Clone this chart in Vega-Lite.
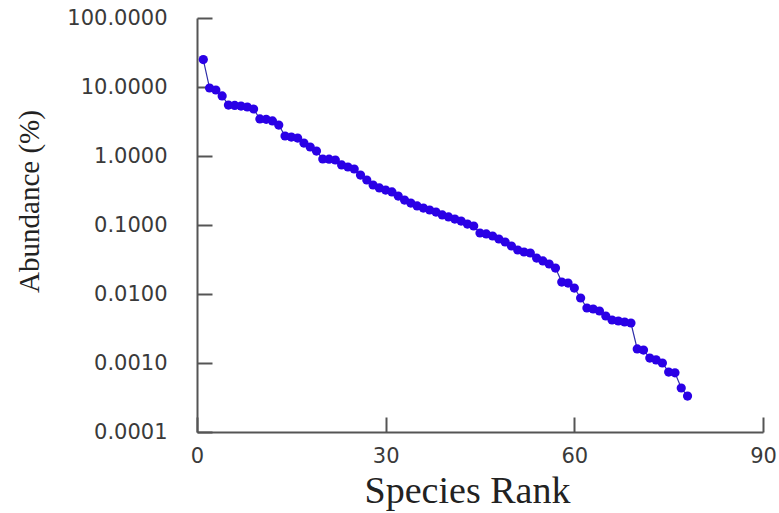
{
  "$schema": "https://vega.github.io/schema/vega-lite/v6.json",
  "width": 566,
  "height": 414,
  "autosize": "none",
  "padding": {"left": 197, "top": 18, "right": 16, "bottom": 81},
  "background": "white",
  "config": {"view": {"stroke": null}},
  "data": {
    "values": [
      {"rank": 1, "abundance": 25.0},
      {"rank": 2, "abundance": 9.67},
      {"rank": 3, "abundance": 9.05},
      {"rank": 4, "abundance": 7.41},
      {"rank": 5, "abundance": 5.48},
      {"rank": 6, "abundance": 5.40},
      {"rank": 7, "abundance": 5.30},
      {"rank": 8, "abundance": 5.13},
      {"rank": 9, "abundance": 4.80},
      {"rank": 10, "abundance": 3.44},
      {"rank": 11, "abundance": 3.40},
      {"rank": 12, "abundance": 3.22},
      {"rank": 13, "abundance": 2.81},
      {"rank": 14, "abundance": 1.95},
      {"rank": 15, "abundance": 1.88},
      {"rank": 16, "abundance": 1.82},
      {"rank": 17, "abundance": 1.54},
      {"rank": 18, "abundance": 1.35},
      {"rank": 19, "abundance": 1.18},
      {"rank": 20, "abundance": 0.905},
      {"rank": 21, "abundance": 0.90},
      {"rank": 22, "abundance": 0.875},
      {"rank": 23, "abundance": 0.741},
      {"rank": 24, "abundance": 0.693},
      {"rank": 25, "abundance": 0.648},
      {"rank": 26, "abundance": 0.530},
      {"rank": 27, "abundance": 0.449},
      {"rank": 28, "abundance": 0.380},
      {"rank": 29, "abundance": 0.344},
      {"rank": 30, "abundance": 0.321},
      {"rank": 31, "abundance": 0.301},
      {"rank": 32, "abundance": 0.263},
      {"rank": 33, "abundance": 0.230},
      {"rank": 34, "abundance": 0.208},
      {"rank": 35, "abundance": 0.189},
      {"rank": 36, "abundance": 0.176},
      {"rank": 37, "abundance": 0.165},
      {"rank": 38, "abundance": 0.154},
      {"rank": 39, "abundance": 0.140},
      {"rank": 40, "abundance": 0.131},
      {"rank": 41, "abundance": 0.122},
      {"rank": 42, "abundance": 0.114},
      {"rank": 43, "abundance": 0.103},
      {"rank": 44, "abundance": 0.0967},
      {"rank": 45, "abundance": 0.0766},
      {"rank": 46, "abundance": 0.0741},
      {"rank": 47, "abundance": 0.0693},
      {"rank": 48, "abundance": 0.0627},
      {"rank": 49, "abundance": 0.0567},
      {"rank": 50, "abundance": 0.0496},
      {"rank": 51, "abundance": 0.0434},
      {"rank": 52, "abundance": 0.0406},
      {"rank": 53, "abundance": 0.0393},
      {"rank": 54, "abundance": 0.0332},
      {"rank": 55, "abundance": 0.0301},
      {"rank": 56, "abundance": 0.0272},
      {"rank": 57, "abundance": 0.0238},
      {"rank": 58, "abundance": 0.0149},
      {"rank": 59, "abundance": 0.0144},
      {"rank": 60, "abundance": 0.0122},
      {"rank": 61, "abundance": 0.00875},
      {"rank": 62, "abundance": 0.00627},
      {"rank": 63, "abundance": 0.00606},
      {"rank": 64, "abundance": 0.00567},
      {"rank": 65, "abundance": 0.00480},
      {"rank": 66, "abundance": 0.00420},
      {"rank": 67, "abundance": 0.00406},
      {"rank": 68, "abundance": 0.00393},
      {"rank": 69, "abundance": 0.00380},
      {"rank": 70, "abundance": 0.00160},
      {"rank": 71, "abundance": 0.00154},
      {"rank": 72, "abundance": 0.00118},
      {"rank": 73, "abundance": 0.00111},
      {"rank": 74, "abundance": 0.00100},
      {"rank": 75, "abundance": 0.00074},
      {"rank": 76, "abundance": 0.00072},
      {"rank": 77, "abundance": 0.000434},
      {"rank": 78, "abundance": 0.000332}
    ]
  },
  "encoding": {
    "x": {
      "field": "rank",
      "type": "quantitative",
      "scale": {"domain": [0, 90], "nice": false, "zero": false},
      "axis": {
        "title": "Species Rank",
        "values": [0, 30, 60, 90],
        "grid": false,
        "domainColor": "#555555",
        "domainWidth": 2,
        "tickColor": "#555555",
        "tickWidth": 2,
        "tickSize": -15,
        "labelPadding": 28,
        "labelFont": "DejaVu Sans",
        "labelFontSize": 21,
        "labelColor": "#3a3a3a",
        "labelBaseline": "top",
        "labelFlush": false,
        "titleFont": "Liberation Serif",
        "titleFontSize": 38,
        "titleFontWeight": "normal",
        "titleColor": "#222222",
        "titleX": 270,
        "titleY": 59,
        "titleBaseline": "middle",
        "titleAlign": "center"
      }
    },
    "y": {
      "field": "abundance",
      "type": "quantitative",
      "scale": {"type": "log", "domain": [0.0001, 100], "nice": false},
      "axis": {
        "title": "Abundance (%)",
        "values": [0.0001, 0.001, 0.01, 0.1, 1, 10, 100],
        "format": ".4f",
        "grid": false,
        "domainColor": "#555555",
        "domainWidth": 2,
        "tickColor": "#555555",
        "tickWidth": 2,
        "tickSize": -15,
        "labelPadding": 45,
        "labelFont": "DejaVu Sans",
        "labelFontSize": 21,
        "labelColor": "#3a3a3a",
        "labelFlush": false,
        "titleFont": "Liberation Serif",
        "titleFontSize": 29,
        "titleFontWeight": "normal",
        "titleColor": "#222222",
        "titleX": -168,
        "titleY": 183,
        "titleBaseline": "middle",
        "titleAlign": "center",
        "titleAngle": -90
      }
    }
  },
  "layer": [
    {
      "mark": {"type": "line", "color": "#2e2ea8", "strokeWidth": 1.2}
    },
    {
      "mark": {"type": "point", "filled": true, "shape": "circle", "size": 85, "color": "#2a00e6", "opacity": 1}
    }
  ]
}
